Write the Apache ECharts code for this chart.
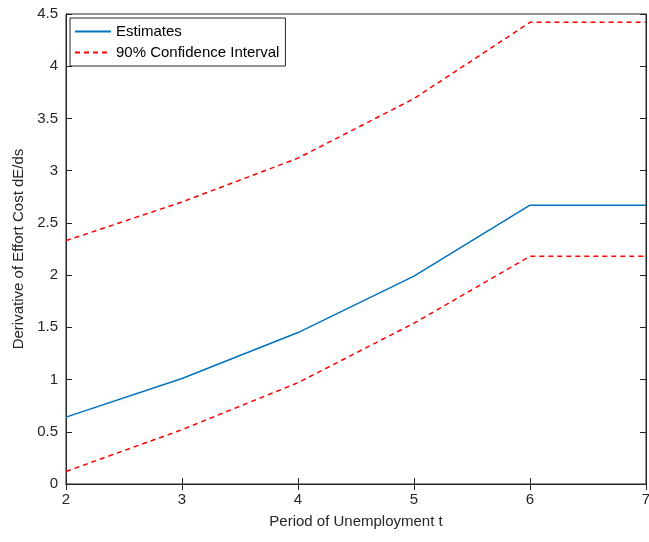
<!DOCTYPE html>
<html>
<head>
<meta charset="UTF-8">
<script src="https://cdn.jsdelivr.net/npm/echarts@6/dist/echarts.min.js"></script>
<style>body{margin:0;background:#fff}#main{width:649px;height:542px}</style>
</head>
<body>
<div id="main"></div>
<script>
var periods = [2, 3, 4, 5, 6, 7];
var estimates = [0.64, 1.01, 1.45, 1.99, 2.67, 2.67];
var upper = [2.33, 2.70, 3.12, 3.69, 4.42, 4.42];
var lower = [0.12, 0.52, 0.97, 1.54, 2.18, 2.18];

function pts(v) { return periods.map(function (p, i) { return [p, v[i]]; }); }
var font = 'Helvetica, Arial, "Liberation Sans", sans-serif';
var axLine = { lineStyle: { color: '#262626' } };
var chart = echarts.init(document.getElementById('main'));
chart.setOption({
    animation: false,
    textStyle: { fontFamily: font },
    grid: { left: 66, right: 3, top: 14, bottom: 58, show: true, borderColor: '#262626', borderWidth: 1, outerBoundsMode: 'none' },
    legend: {
        left: 70, top: 18, orient: 'vertical', itemGap: 6,
        backgroundColor: '#fff', borderColor: '#262626', borderWidth: 1, padding: [6, 6, 6, 4],
        itemWidth: 36, itemHeight: 12, textStyle: { fontSize: 15, color: '#000' },
        itemStyle: { opacity: 0 },
        data: ['Estimates', '90% Confidence Interval']
    },
    xAxis: [{
        type: 'value', min: 2, max: 7, interval: 1,
        name: 'Period of Unemployment t', nameLocation: 'middle', nameGap: 30,
        nameTextStyle: { fontSize: 15, color: '#262626' },
        axisLine: axLine, axisTick: { inside: true, length: 6, lineStyle: { color: '#262626' } },
        axisLabel: { fontSize: 15, color: '#262626' }, splitLine: { show: false }
    }, {
        type: 'value', min: 2, max: 7, interval: 1, position: 'top',
        axisLine: axLine, axisTick: { inside: true, length: 6, lineStyle: { color: '#262626' } },
        axisLabel: { show: false }, splitLine: { show: false }
    }],
    yAxis: [{
        type: 'value', min: 0, max: 4.5, interval: 0.5,
        name: 'Derivative of Effort Cost dE/ds', nameLocation: 'middle', nameGap: 38,
        nameTextStyle: { fontSize: 15, color: '#262626' },
        axisLine: { show: true, lineStyle: { color: '#262626' } },
        axisTick: { show: true, inside: true, length: 6, lineStyle: { color: '#262626' } },
        axisLabel: { fontSize: 15, color: '#262626' }, splitLine: { show: false }
    }, {
        type: 'value', min: 0, max: 4.5, interval: 0.5, position: 'right',
        axisLine: { show: true, lineStyle: { color: '#262626' } },
        axisTick: { show: true, inside: true, length: 6, lineStyle: { color: '#262626' } },
        axisLabel: { show: false }, splitLine: { show: false }
    }],
    series: [
        { name: 'Estimates', type: 'line', data: pts(estimates), symbol: 'none',
          color: '#0072BD', lineStyle: { width: 1.5, color: '#0072BD' } },
        { name: '90% Confidence Interval', type: 'line', data: pts(upper), symbol: 'none',
          color: '#FF0000', lineStyle: { width: 1.5, type: [5, 4], color: '#FF0000' } },
        { name: '90% Confidence Interval', type: 'line', data: pts(lower), symbol: 'none',
          color: '#FF0000', lineStyle: { width: 1.5, type: [5, 4], color: '#FF0000' } }
    ]
});
</script>
</body>
</html>
